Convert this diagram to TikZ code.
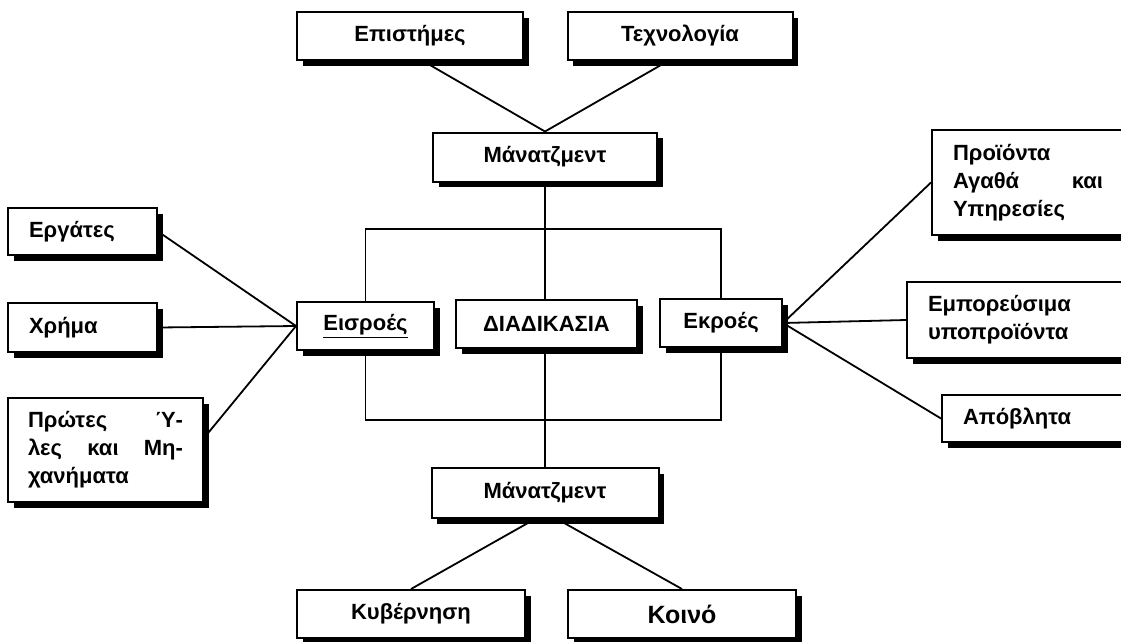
\documentclass[tikz,border=0pt]{standalone}
\usepackage{fontspec}
\setmainfont{Liberation Sans}
\usetikzlibrary{shapes,positioning,shadows,backgrounds}

\begin{document}
\begin{tikzpicture}[x=1pt,y=-1pt,
            box/.style={rectangle, draw, line width=2pt, fill=white,
                inner sep=0pt, minimum height=48pt,
                font=\fontsize{22}{28}\selectfont\bfseries,
                drop shadow={shadow xshift=5.5pt, shadow yshift=-5.5pt,
                    opacity=1, fill=black}},
            sidebox/.style={box, inner xsep=21pt, align=left},
            link/.style={line width=1.8pt}]

            \useasboundingbox (0,0) rectangle (1121,641);
            \clip (0,0) rectangle (1121,641);

            \node [box,minimum width=226pt] (epi) at (410,36) {Επιστήμες};
            \node [box,minimum width=225pt] (tech) at (680,36) {Τεχνολογία};
            \node [box,minimum width=224pt,minimum height=49pt] (man1) at (545,157) {Μάνατζμεντ};

            \node [sidebox,text width=107pt,minimum height=47pt] (erg) at (82.5,231.5) {Εργάτες};
            \node [sidebox,text width=107pt,minimum height=49pt] (xri) at (82.5,327.5) {Χρήμα};
            \node [sidebox,text width=155pt,inner xsep=20pt,minimum height=104pt] (prw) at (105.5,450) {
            Πρώτες\hfill Ύ-\\ λες\hfill και\hfill Μη-\\ χανήματα};

            \node [box,minimum width=137pt] (eis) at (365.5,326) {\underline{Εισροές}};
            \node [box,minimum width=181pt] (diad) at (546.5,324) {ΔΙΑΔΙΚΑΣΙΑ};
            \node [box,minimum width=122pt] (ekr) at (721,323) {Εκροές};

            \node [sidebox,text width=150pt,minimum height=105pt] (proi) at (1028,182.5) {
            Προϊόντα\\ Αγαθά\hfill και\\ Υπηρεσίες};
            \node [sidebox,text width=175pt,minimum height=76pt] (embo) at (1015.5,320) {
            Εμπορεύσιμα\\ υποπροϊόντα};
            \node [sidebox,text width=140pt,minimum height=47pt] (apo) at (1033,418.5) {Απόβλητα};

            \node [box,minimum width=227pt,minimum height=50pt] (man2) at (545,493) {Μάνατζμεντ};
            \node [box,minimum width=228pt] (kyv) at (411,614) {Κυβέρνηση};
            \node [box,minimum width=228pt,font=\fontsize{25}{30}\selectfont\bfseries] (koi) at (682,614) {Κοινό};

            \coordinate (looptop) at (545,229);
            \coordinate (loopbot) at (545,420);

            \begin{scope}[on background layer]
            \draw [link] ([xshift=13pt]epi.south) -- (man1.north);
            \draw [link] ([xshift=-12pt]tech.south) -- (man1.north);
            \draw [link] (man1.south) -- (man2.north);
            \draw [link] (eis.north) |- (looptop) -| (ekr.north);
            \draw [link] (eis.south) |- (loopbot) -| (ekr.south);
            \draw [link] (erg.east) -- (eis.west);
            \draw [link] (xri.east) -- (eis.west);
            \draw [link] ([yshift=12pt]prw.east) -- (eis.west);
            \draw [link] (ekr.east) -- (proi.west);
            \draw [link] (ekr.east) -- (embo.west);
            \draw [link] (ekr.east) -- (apo.west);
            \draw [link] ([xshift=-10pt]man2.south) -- (kyv.north);
            \draw [link] ([xshift=12pt]man2.south) -- (koi.north);
            \end{scope}

        \end{tikzpicture}
\end{document}
